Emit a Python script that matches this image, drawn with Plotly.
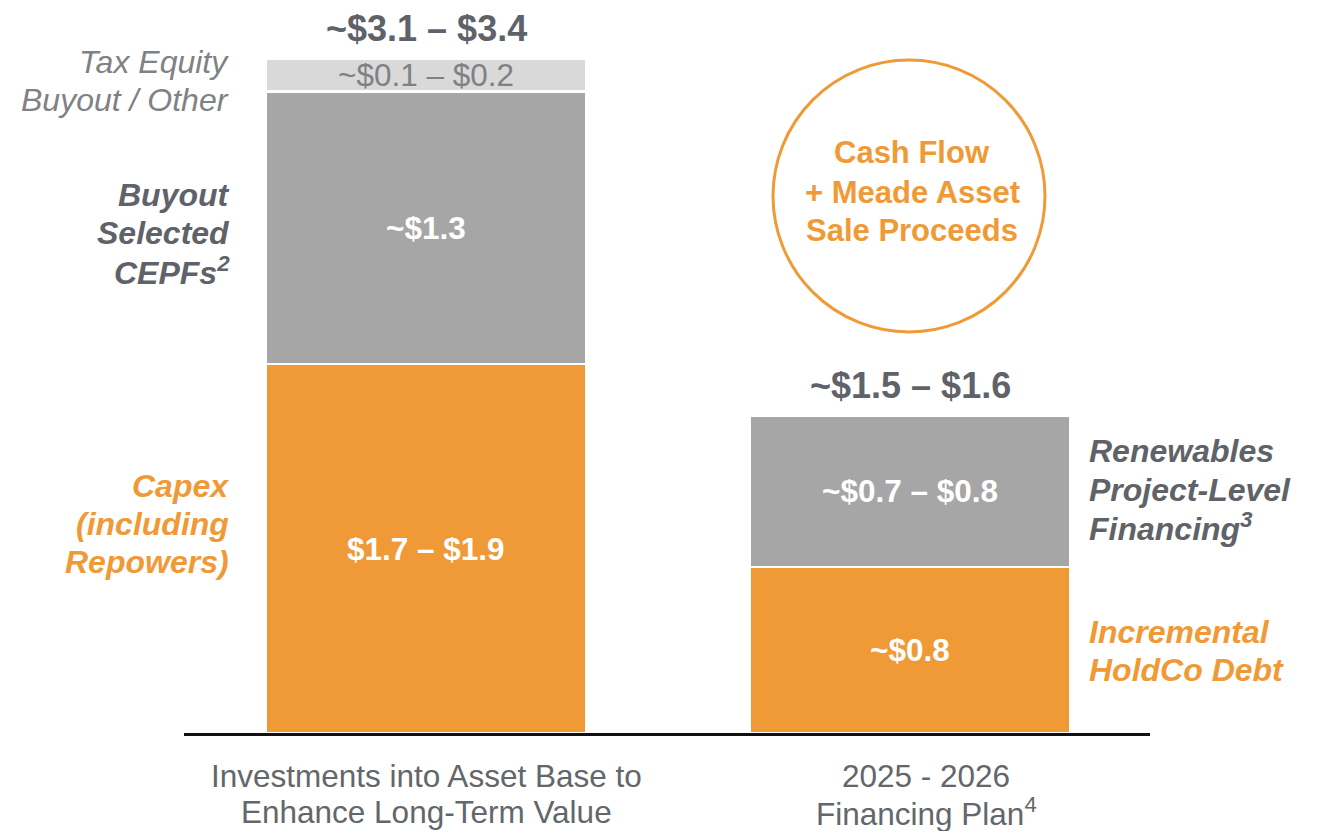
import plotly.graph_objects as go

# ---------------- data ----------------
categories = ["Investments into Asset Base to<br>Enhance Long-Term Value",
              "2025 - 2026<br>Financing Plan<sup>4</sup>"]
x_pos = [0, 1]
orange_vals = [1.80, 0.81]
gray_vals = [1.33, 0.74]
light_vals = [0.16, 0.0]
orange_labels = ["$1.7 – $1.9", "~$0.8"]
gray_labels = ["~$1.3", "~$0.7 – $0.8"]
light_labels = ["~$0.1 – $0.2", ""]
total_labels = ["~$3.1 – $3.4", "~$1.5 – $1.6"]

# ---------------- style ----------------
ORANGE = "#F09A37"
GRAY = "#A6A6A6"
LIGHT = "#D9D9D9"
DARK = "#5F6369"
MID = "#7F8184"
FONT = "Liberation Sans, Arial, sans-serif"

OFF = 8                      # page body margin
W, H = 1319 - OFF, 831 - OFF
ML, MR, MT = 184 - OFF, 169, 0
BASE_VY = 733                # baseline in viewport pixels
PLOT_H = BASE_VY - OFF - MT
MB = H - MT - PLOT_H
PLOT_W = W - ML - MR
PX_PER_UNIT = 205.0
BAR_W = 0.661


def py(vy):
    """viewport pixel y -> paper y"""
    return (PLOT_H + MT - (vy - OFF)) / PLOT_H


def px(vx):
    """viewport pixel x -> paper x"""
    return (vx - OFF - ML) / PLOT_W


fig = go.Figure()
for vals, col in [(orange_vals, ORANGE), (gray_vals, GRAY), (light_vals, LIGHT)]:
    fig.add_trace(go.Bar(
        x=x_pos, y=vals, width=BAR_W,
        marker=dict(color=col, line=dict(color="white", width=2.5)),
        hoverinfo="skip", showlegend=False,
    ))

ann = []
# segment labels
for i in range(len(x_pos)):
    b0 = 0
    for vals, labs, col in [(orange_vals, orange_labels, "white"),
                            (gray_vals, gray_labels, "white"),
                            (light_vals, light_labels, MID)]:
        if labs[i]:
            bold = col == "white"
            ann.append(dict(x=x_pos[i], y=b0 + vals[i] / 2, xref="x", yref="y",
                            xanchor="center", yanchor="middle",
                            text=labs[i], showarrow=False,
                            font=dict(family=FONT, size=31.5, color=col,
                                      weight="bold" if bold else "normal")))
        b0 += vals[i]
    total = orange_vals[i] + gray_vals[i] + light_vals[i]
    ann.append(dict(x=x_pos[i], y=total, xref="x", yref="y", yshift=30,
                    xanchor="center", yanchor="middle",
                    text=total_labels[i], showarrow=False,
                    font=dict(family=FONT, size=36, color=DARK, weight="bold")))


def add_lines(text, xv, ys, anchor, col, weight, style, size=32, xref="paper", xshift=0):
    for line, yv in zip(text.split("<br>"), ys):
        ann.append(dict(x=xv, y=py(yv), xref=xref, yref="paper",
                        xanchor=anchor, yanchor="middle", xshift=xshift,
                        text=line, showarrow=False,
                        font=dict(family=FONT, size=size, color=col,
                                  weight=weight, style=style)))


# side labels
add_lines("Tax Equity<br>Buyout / Other", px(231), [62, 100], "right", MID, "normal", "italic")
add_lines("Buyout<br>Selected<br>CEPFs<sup>2</sup>", px(232), [195, 233, 271], "right", DARK, "bold", "italic")
add_lines("Capex<br>(including<br>Repowers)", px(231), [486, 524, 562], "right", ORANGE, "bold", "italic")
add_lines("Renewables<br>Project-Level<br>Financing<sup>3</sup>", px(1087), [451, 490, 527], "left", DARK, "bold", "italic")
add_lines("Incremental<br>HoldCo Debt", px(1087), [632, 670], "left", ORANGE, "bold", "italic")

# circle text
add_lines("Cash Flow<br>+ Meade Asset<br>Sale Proceeds", px(912), [153, 192, 230], "center", ORANGE, "bold", "normal", size=31)

# category labels
cat_shift = [0, 16]
for i, cat in enumerate(categories):
    add_lines(cat, x_pos[i], [776, 812], "center", "#63666A", "normal", "normal",
              size=31.5, xref="x", xshift=cat_shift[i])

fig.update_layout(
    barmode="stack",
    width=W, height=H,
    margin=dict(l=ML, r=MR, t=MT, b=MB),
    paper_bgcolor="white", plot_bgcolor="white",
    font=dict(family=FONT),
    annotations=ann,
    shapes=[dict(type="circle", xref="paper", yref="paper",
                 x0=px(773), x1=px(1045), y0=py(332), y1=py(60),
                 line=dict(color=ORANGE, width=3))],
    xaxis=dict(range=[-0.5, PLOT_W / 484.0 - 0.5], showgrid=False,
               zeroline=False, showticklabels=False, ticks="",
               showline=True, linecolor="#111111", linewidth=3),
    yaxis=dict(range=[0, PLOT_H / PX_PER_UNIT], visible=False, showgrid=False,
               zeroline=False),
)

fig.write_html("out.html")
